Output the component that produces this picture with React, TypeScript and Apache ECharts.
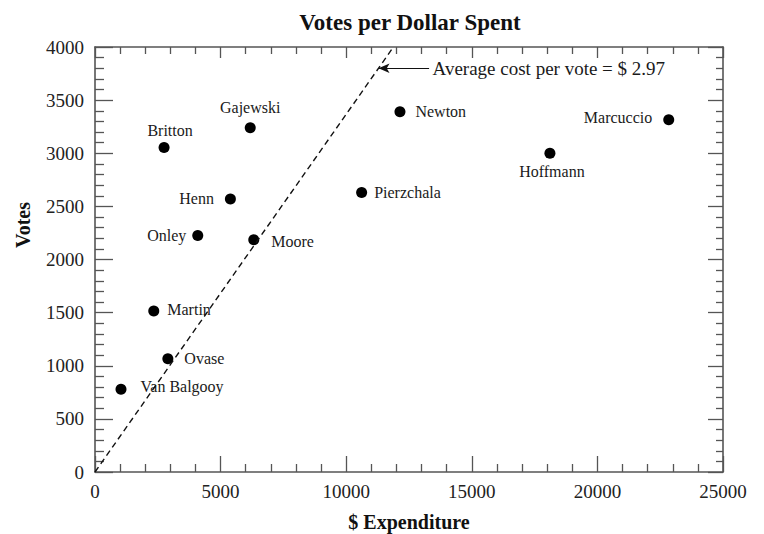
import React, { useEffect, useRef } from "react";
import * as echarts from "echarts";

const candidates = ["Van Balgooy", "Martin", "Ovase", "Britton", "Gajewski", "Henn", "Onley", "Moore", "Pierzchala", "Newton", "Hoffmann", "Marcuccio"];
const expenditure = [1035, 2340, 2900, 2750, 6180, 5390, 4090, 6320, 10615, 12140, 18110, 22840];
const votes = [778, 1515, 1066, 3055, 3240, 2570, 2225, 2185, 2630, 3390, 3000, 3315];
const avgCost = 2.97;
const annotationText = "Average cost per vote = $ 2.97";
const annotationVotes = 3800;
const annotationStartX = 13300;
const xMax = 25000;
const yMax = 4000;

const labelPlacement: Record<string, { position: string; distance: number; offset: [number, number] }> = {
  "Van Balgooy": { position: "right", distance: 14, offset: [0, -3] },
  Martin: { position: "right", distance: 8, offset: [0, -2] },
  Ovase: { position: "right", distance: 11, offset: [0, 0] },
  Britton: { position: "top", distance: 3, offset: [6, 0] },
  Gajewski: { position: "top", distance: 7, offset: [0, 0] },
  Henn: { position: "left", distance: 11, offset: [0, 0] },
  Onley: { position: "left", distance: 6, offset: [0, 0] },
  Moore: { position: "right", distance: 12, offset: [0, 2] },
  Pierzchala: { position: "right", distance: 7, offset: [0, 0] },
  Newton: { position: "right", distance: 10, offset: [0, 0] },
  Hoffmann: { position: "bottom", distance: 5, offset: [2, 0] },
  Marcuccio: { position: "left", distance: 11, offset: [0, -2] },
};

const FONT = '"Liberation Serif", "Times New Roman", serif';
const AXIS_COLOR = "#555";

export default function App() {
  const ref = useRef<HTMLDivElement>(null);

  useEffect(() => {
    if (!ref.current) return;
    const chart = echarts.init(ref.current, null, { renderer: "svg" });

    const pointData = candidates.map((name, i) => {
      const p = labelPlacement[name];
      return {
        name,
        value: [expenditure[i], votes[i]],
        label: { position: p.position, distance: p.distance, offset: p.offset },
      };
    });

    const baseX = {
      type: "value",
      min: 0,
      max: xMax,
      interval: 5000,
      splitLine: { show: false },
      axisLine: { show: true, onZero: false, lineStyle: { color: AXIS_COLOR, width: 1.6 } },
    };
    const baseY = {
      type: "value",
      min: 0,
      max: yMax,
      interval: 500,
      splitLine: { show: false },
      axisLine: { show: true, onZero: false, lineStyle: { color: AXIS_COLOR, width: 1.6 } },
    };
    const plain = (v: number) => String(v);

    chart.setOption({
      animation: false,
      backgroundColor: "#fff",
      grid: { left: 95, right: 41, top: 47, bottom: 62, containLabel: false, outerBoundsMode: "none" },
      graphic: [
        {
          type: "text",
          x: 410,
          y: 22,
          style: {
            text: "Votes per Dollar Spent",
            font: `bold 23px ${FONT}`,
            fill: "#111",
            textAlign: "center",
            textVerticalAlign: "middle",
          },
        },
        {
          type: "text",
          x: 23,
          y: 225,
          rotation: Math.PI / 2,
          style: {
            text: "Votes",
            font: `bold 20px ${FONT}`,
            fill: "#111",
            textAlign: "center",
            textVerticalAlign: "middle",
          },
        },
      ],
      xAxis: [
        {
          ...baseX,
          position: "bottom",
          name: "$ Expenditure",
          nameLocation: "middle",
          nameGap: 40,
          nameTextStyle: { fontFamily: FONT, fontSize: 20, fontWeight: "bold", color: "#111" },
          axisTick: { show: true, inside: true, length: 16, lineStyle: { color: AXIS_COLOR, width: 1.3 } },
          minorTick: { show: true, splitNumber: 5, length: 8, lineStyle: { color: AXIS_COLOR, width: 1.3 } },
          axisLabel: { fontFamily: FONT, fontSize: 19, color: "#222", margin: 10, formatter: plain },
        },
        {
          ...baseX,
          position: "top",
          axisTick: { show: true, inside: true, length: 11, lineStyle: { color: AXIS_COLOR, width: 1.3 } },
          minorTick: { show: true, splitNumber: 5, length: 7, lineStyle: { color: AXIS_COLOR, width: 1.3 } },
          axisLabel: { show: false },
        },
      ],
      yAxis: [
        {
          ...baseY,
          position: "left",
          axisTick: { show: true, inside: true, length: 18, lineStyle: { color: AXIS_COLOR, width: 1.3 } },
          minorTick: { show: true, splitNumber: 5, length: 9, lineStyle: { color: AXIS_COLOR, width: 1.3 } },
          axisLabel: { fontFamily: FONT, fontSize: 19, color: "#222", margin: 11, formatter: plain },
        },
        {
          ...baseY,
          position: "right",
          axisTick: { show: true, inside: true, length: 15, lineStyle: { color: AXIS_COLOR, width: 1.3 } },
          minorTick: { show: true, splitNumber: 5, length: 7, lineStyle: { color: AXIS_COLOR, width: 1.3 } },
          axisLabel: { show: false },
        },
      ],
      series: [
        {
          type: "line",
          xAxisIndex: 0,
          yAxisIndex: 0,
          data: [
            [0, 0],
            [yMax * avgCost, yMax],
          ],
          showSymbol: false,
          symbol: "none",
          lineStyle: { color: "#111", width: 1.4, type: [6, 4] },
          silent: true,
          markLine: {
            silent: true,
            symbol: ["none", "arrow"],
            symbolSize: [7, 11],
            label: { show: false },
            lineStyle: { color: "#111", width: 1, type: "solid" },
            data: [
              [
                { coord: [annotationStartX, annotationVotes] },
                { coord: [annotationVotes * avgCost, annotationVotes] },
              ],
            ],
          },
        },
        {
          type: "scatter",
          xAxisIndex: 0,
          yAxisIndex: 0,
          symbolSize: 1,
          itemStyle: { color: "rgba(0,0,0,0)", opacity: 1 },
          silent: true,
          label: {
            show: true,
            position: "right",
            distance: 3,
            formatter: annotationText,
            fontFamily: FONT,
            fontSize: 19,
            color: "#1a1a1a",
          },
          data: [[annotationStartX, annotationVotes]],
        },
        {
          type: "scatter",
          xAxisIndex: 0,
          yAxisIndex: 0,
          symbol: "circle",
          symbolSize: 11,
          itemStyle: { color: "#000", opacity: 1 },
          label: {
            show: true,
            formatter: "{b}",
            fontFamily: FONT,
            fontSize: 16,
            color: "#1a1a1a",
          },
          data: pointData,
        },
      ],
    });

    return () => chart.dispose();
  }, []);

  return (
    <div
      ref={ref}
      style={{ position: "fixed", left: 0, top: 0, width: 764, height: 534, background: "#fff" }}
    />
  );
}
